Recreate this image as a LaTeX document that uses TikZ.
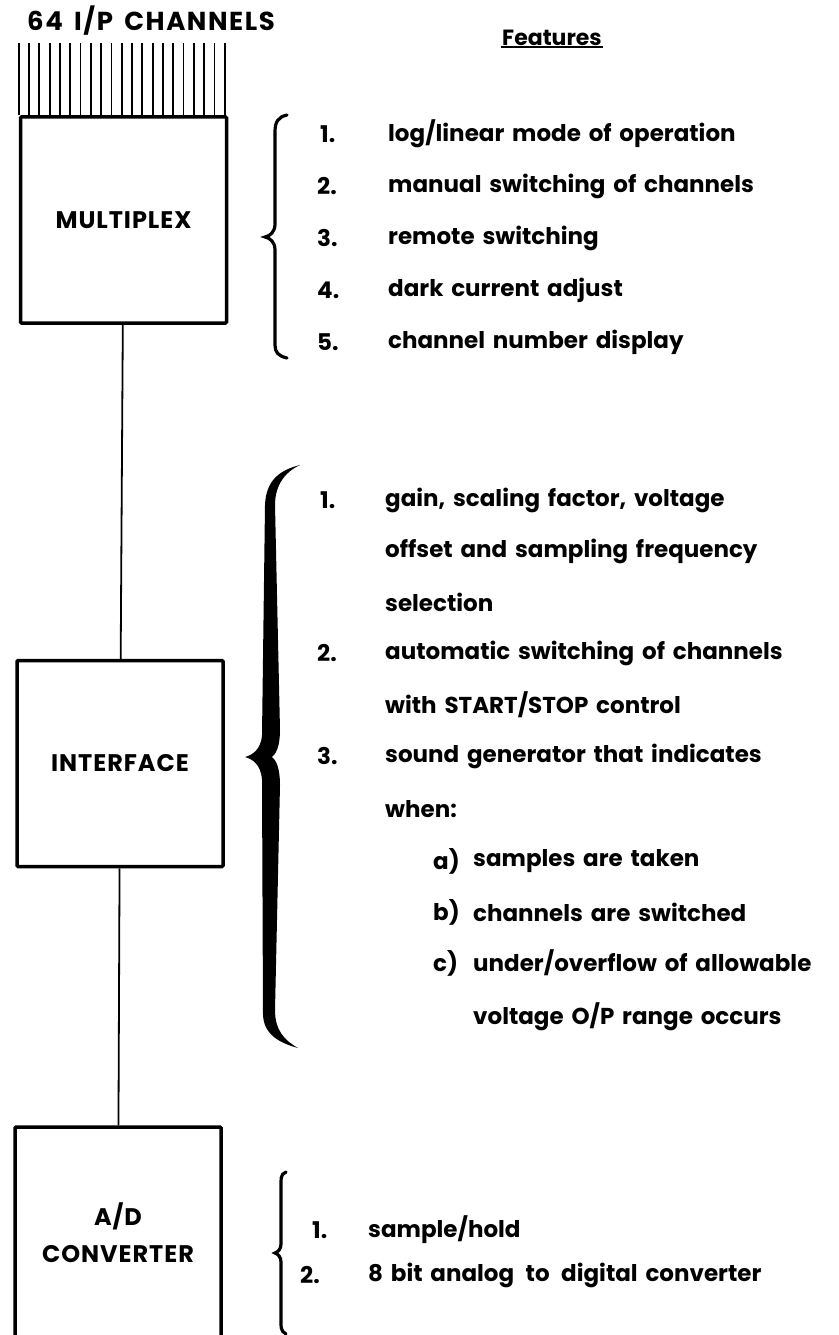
\documentclass[tikz,border=0pt]{standalone}
\usepackage{fontspec}
\setmainfont{Poppins}[WordSpace=1.6]
\usepackage{tikz}

\tikzset{
  block/.style={rectangle, draw, line width=3.5pt, rounded corners=1pt, minimum width=206pt, minimum height=206pt, align=center, font=\bfseries\fontsize{24}{37}\selectfont\addfontfeature{LetterSpace=4}},
  chan/.style={line width=1.8pt},
  link/.style={line width=1.8pt},
  brace/.style={line width=3.2pt, line cap=round},
  num/.style={anchor=west, font=\bfseries\fontsize{23}{26}\selectfont, inner sep=0pt},
  feat/.style={anchor=west, font=\bfseries\fontsize{23}{26}\selectfont, inner sep=0pt},
}

\begin{document}
\begin{tikzpicture}[x=1pt, y=-1pt]
\useasboundingbox (0,0) rectangle (838,1335);
\node at (151,21) [font=\bfseries\fontsize{26}{30}\selectfont\addfontfeature{LetterSpace=6}] (title) {64 I/P CHANNELS};
\node at (552,38) [font=\bfseries\fontsize{22}{26}\selectfont, inner sep=1pt] (heading) {Features};
\draw [line width=2.2pt] (heading.south west) -- (heading.south east);
\node at (123.5,220) [block] (multiplex) {MULTIPLEX};
\node at (120,763.5) [block] (interface) {INTERFACE};
\node at (118,1233) [block, minimum height=212pt] (adc) {A/D\\CONVERTER};
\foreach \i in {0,...,20}
  \draw [chan] ([xshift=\i*10.3pt]multiplex.north west) -- ++(0,-72);
\draw [link] (multiplex) -- (interface);
\draw [link] (interface) -- (adc);
% multiplex features
\draw [brace] (287,115) .. controls (278,117) and (275,122) .. (275,132) -- (275,224) .. controls (275,232) and (270,236) .. (265,237) .. controls (270,238) and (275,242) .. (275,250) -- (275,345) .. controls (275,352) and (278,356) .. (287,358);
\node at (320,134) [num] (m1) {1.};
\node at (388,134) [feat] (m1t) {log/linear mode of operation};
\node at (317,186) [num] (m2) {2.};
\node at (388,186) [feat] (m2t) {manual switching of channels};
\node at (317,238) [num] (m3) {3.};
\node at (388,238) [feat] (m3t) {remote switching};
\node at (317,290) [num] (m4) {4.};
\node at (388,290) [feat] (m4t) {dark current adjust};
\node at (317,342) [num] (m5) {5.};
\node at (388,342) [feat] (m5t) {channel number display};
% interface features
\fill (300,465) .. controls (280,470) and (266,480) .. (265,505) -- (262,735) .. controls (261,750) and (252,755) .. (245,757) .. controls (252,759) and (261,764) .. (262,780) -- (263,1015) .. controls (264,1035) and (280,1043) .. (298,1048) .. controls (284,1040) and (275,1030) .. (275,1010) -- (280,785) .. controls (280,768) and (276,760) .. (272,757) .. controls (276,754) and (280,746) .. (280,730) -- (275,505) .. controls (275,485) and (285,472) .. (300,465) -- cycle;
\node at (320,500) [num] (i1) {1.};
\node at (385,500) [feat] (i1t) {gain, scaling factor, voltage};
\node at (385,551) [feat] (i1u) {offset and sampling frequency};
\node at (385,602) [feat] (i1v) {selection};
\node at (317,653) [num] (i2) {2.};
\node at (385,653) [feat] (i2t) {automatic switching of channels};
\node at (385,705) [feat] (i2u) {with START/STOP control};
\node at (317,756) [num] (i3) {3.};
\node at (385,756) [feat] (i3t) {sound generator that indicates};
\node at (385,809) [feat] (i3u) {when:};
\node at (433,861) [num] (ia) {a)};
\node at (473,861) [feat] (iat) {samples are taken};
\node at (433,912) [num] (ib) {b)};
\node at (473,912) [feat] (ibt) {channels are switched};
\node at (433,963) [num] (ic) {c)};
\node at (473,963) [feat] (ict) {under/overflow of allowable};
\node at (473,1017) [feat] (icu) {voltage O/P range occurs};
% a/d features
\draw [brace] (286,1172) .. controls (280,1174) and (281,1180) .. (281,1188) -- (281,1244) .. controls (281,1249) and (278,1252) .. (275,1253) .. controls (278,1254) and (281,1257) .. (281,1262) -- (281,1318) .. controls (281,1326) and (280,1331) .. (286,1334);
\node at (312,1230) [num] (a1) {1.};
\node at (368,1230) [feat] (a1t) {sample/hold};
\node at (300,1275) [num] (a2) {2.};
\node at (368,1275) [feat] (a2t) {8 bit analog\enspace to\enspace digital converter};
\end{tikzpicture}
\end{document}
